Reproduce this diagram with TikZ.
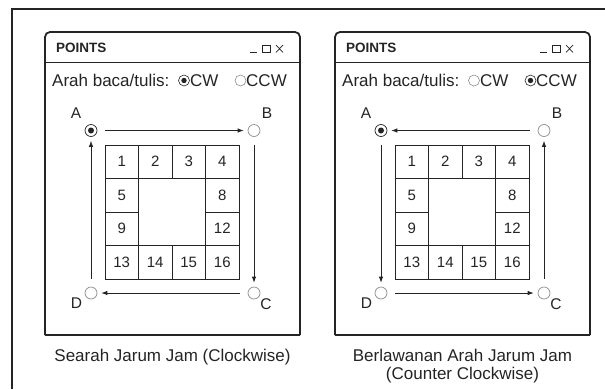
\documentclass[tikz,border=0pt]{standalone}
\usepackage{fontspec}
\setmainfont{Liberation Sans}
\usetikzlibrary{arrows.meta}
\definecolor{ink}{HTML}{242424}
\definecolor{soft}{HTML}{8C8C8C}

\tikzset{
  txt/.style={inner sep=0pt,font=\fontsize{17}{18.3}\selectfont},
  radio/.style={circle,draw=soft,line width=.6pt,minimum size=11pt,inner sep=0pt},
  radioon/.style={radio,draw=ink,
    path picture={\fill[ink] (path picture bounding box.center) circle (2.7pt);}},
  pt/.style={circle,draw=soft,line width=.7pt,minimum size=12pt,inner sep=0pt},
  pton/.style={pt,draw=ink,
    path picture={\fill[ink] (path picture bounding box.center) circle (3pt);}},
  cell/.style={draw=ink,line width=.8pt,minimum size=33.5pt,inner sep=0pt,
    font=\fontsize{15}{15}\selectfont},
  corner/.style={inner sep=0pt,font=\fontsize{15.5}{15.5}\selectfont},
  walk/.style={ink,line width=.8pt,-{Latex[length=6pt,width=4.5pt]},
    shorten <=8pt,shorten >=4pt},
  pics/window/.style args={#1/#2}{code={
    % frame, rounded on top only
    \draw[ink,line width=1.8pt,rounded corners=5pt] (0,303) -- (0,0) -- (255,0) -- (255,303);
    \draw[ink,line width=1.8pt] (0,303) -- (255,303);
    \draw[ink,line width=.9pt] (0,30) -- (255,30);
    \node[anchor=west,inner sep=0pt,font=\bfseries\fontsize{13.5}{14}\selectfont] (-title) at (11,16) {POINTS};
    % minimise, maximise, close
    \draw[ink,line width=.7pt] (205,20.5) -- (211.5,20.5);
    \draw[ink,line width=.7pt] (217,13) rectangle (225.5,20.5);
    \draw[ink,line width=.7pt] (231,13) -- (238,20.5) (231,20.5) -- (238,13);
    % direction choice
    \node[txt,anchor=base west] (-dir) at (7,54) {Arah baca/tulis:};
    \node[#1] (-cw) at (139,48.5) {};
    \node[txt,anchor=base west] (-cwtxt) at (145,54) {CW};
    \node[#2] (-ccw) at (195.5,48.5) {};
    \node[txt,anchor=base west] (-ccwtxt) at (201,54) {CCW};
    % corner points
    \node[pton] (-A) at (46,98.5) {};
    \node[pt] (-B) at (209,98.5) {};
    \node[pt] (-C) at (209,261) {};
    \node[pt] (-D) at (46,261) {};
    \node[corner] (-lA) at (31,81) {A};
    \node[corner] (-lB) at (222,81) {B};
    \node[corner] (-lC) at (221,272) {C};
    \node[corner] (-lD) at (31.5,271.5) {D};
    % border cells of the 4x4 grid
    \foreach \n/\c/\r in {1/0/0,2/1/0,3/2/0,4/3/0,5/0/1,8/3/1,9/0/2,12/3/2,
                          13/0/3,14/1/3,15/2/3,16/3/3}
      \node[cell] (-c\n) at ({76.75+33.5*\c},{129.75+33.5*\r}) {\n};
  }}
}

\begin{document}
\begin{tikzpicture}[x=1pt,y=-1pt,font=\fontsize{17}{18.3}\selectfont,text=ink]
  \useasboundingbox (0,0) rectangle (605,389);
  \draw[ink,line width=2pt] (12,389) -- (12,9) -- (605,9);

  \pic (w1) at (45,32) {window={radioon/radio}};
  \pic (w2) at (335,32) {window={radio/radioon}};

  % clockwise
  \draw[walk] (w1-A) -- (w1-B);
  \draw[walk] (w1-B) -- (w1-C);
  \draw[walk] (w1-C) -- (w1-D);
  \draw[walk] (w1-D) -- (w1-A);
  % counter clockwise
  \draw[walk] (w2-B) -- (w2-A);
  \draw[walk] (w2-A) -- (w2-D);
  \draw[walk] (w2-D) -- (w2-C);
  \draw[walk] (w2-C) -- (w2-B);

  \node[txt] (cap1) at (172.5,357) {Searah Jarum Jam (Clockwise)};
  \node[txt,align=center] (cap2) at (462.5,366) {Berlawanan Arah Jarum Jam\\(Counter Clockwise)};
\end{tikzpicture}
\end{document}
